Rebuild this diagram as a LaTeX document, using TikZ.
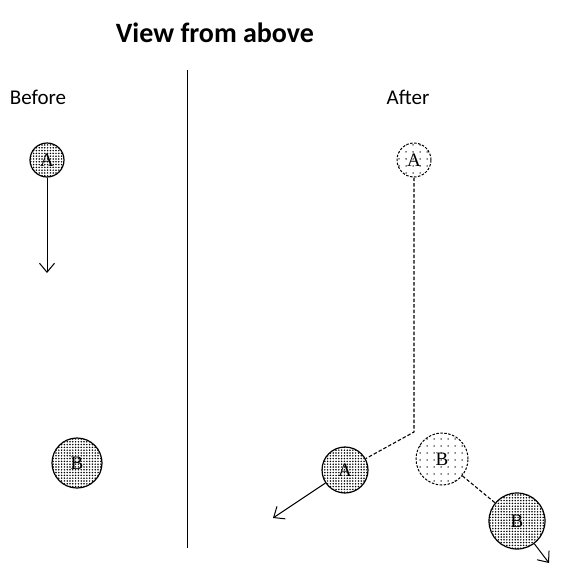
\documentclass[tikz,border=0pt]{standalone}
\usepackage{fontspec}
\setmainfont{Carlito}
\newfontfamily\ballfont{Liberation Serif}
\usetikzlibrary{arrows.meta,patterns.meta}

\tikzset{
  oldball/.style={circle, draw, line width=1.2pt, inner sep=0pt,
    pattern={Dots[distance=2.8pt, radius=0.85pt]}, font=\ballfont\fontsize{19}{19}\selectfont},
  newball/.style={circle, draw, dashed, dash pattern=on 2.5pt off 1.5pt, line width=1pt, inner sep=0pt,
    pattern={Dots[distance=7pt, radius=0.75pt]}, font=\ballfont\fontsize{19}{19}\selectfont},
  motion/.style={-{Straight Barb[length=9pt, width=15pt]}, line width=1pt},
  trail/.style={dashed, dash pattern=on 3.5pt off 2pt, line width=1.1pt}
}

\begin{document}
\begin{tikzpicture}[x=1pt, y=-1pt]
		\useasboundingbox (0,0) rectangle (563,565);
		
		% Labels
		\node[font=\bfseries\fontsize{28}{28}\selectfont] (title) at (215,33) {View from above};
		\node[font=\fontsize{21}{21}\selectfont] (before) at (38,97) {Before};
		\node[font=\fontsize{21}{21}\selectfont] (after) at (408,97) {After};
		
		% Divider
		\coordinate (top) at (187,70);
		\coordinate (bottom) at (187,548);
		\draw[line width=0.9pt] (top) -- (bottom);
		
		% Before
		\node[oldball, minimum size=34pt] (A1) at (47,160) {A};
		\node[oldball, minimum size=50pt] (B1) at (77,463) {B};
		\coordinate (A1end) at (47,273);
		\draw[motion] (A1.south) -- (A1end);
		
		% After
		\node[newball, minimum size=34pt] (A2) at (414,160) {A};
		\node[oldball, minimum size=46pt] (A3) at (345,470) {A};
		\node[newball, minimum size=52pt] (B2) at (442,459) {B};
		\node[oldball, minimum size=56pt] (B3) at (517,521) {B};
		\coordinate (bend) at (414,432);
		\coordinate (A3end) at (273,518);
		\coordinate (B3end) at (549,563);
		\draw[trail] (A2.south) -- (bend) -- (A3);
		\draw[trail] (B2) -- (B3);
		\draw[motion] (A3) -- (A3end);
		\draw[motion] (B3) -- (B3end);
		
		\end{tikzpicture}
\end{document}
